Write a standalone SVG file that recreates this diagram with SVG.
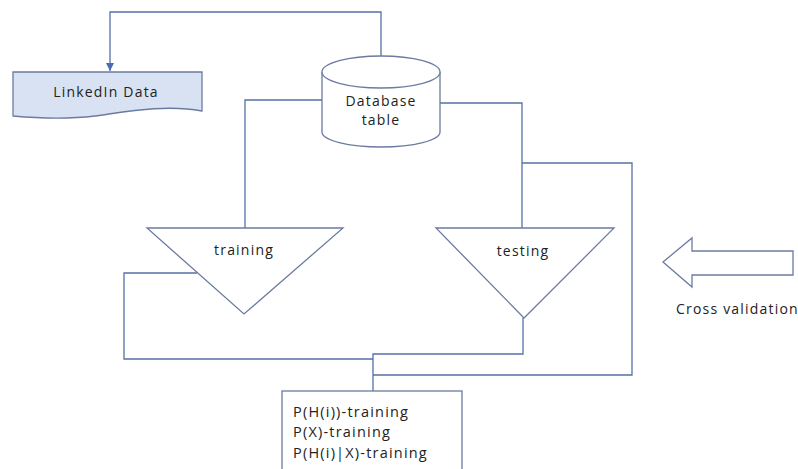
<svg xmlns="http://www.w3.org/2000/svg" width="798" height="469" viewBox="0 0 798 469">
<style>
.conn{fill:none;stroke:#5570a8;stroke-width:1.3}
.shape{fill:#fff;stroke:#6b7ba0;stroke-width:1.3}
.txt{font-family:"Open Sans","Liberation Sans",sans-serif;font-size:14px;letter-spacing:1.2px;fill:#222}
</style>
<defs>
<marker id="arr" viewBox="0 0 10 10" refX="10" refY="5" markerWidth="8" markerHeight="8" markerUnits="userSpaceOnUse" orient="auto">
<path d="M0,0 L10,5 L0,10 Z" fill="#4a6bb0"/>
</marker>
</defs>
<rect width="798" height="469" fill="#fff"/>
<g id="connectors">
<polyline class="conn" points="381,56 381,12 110,12 110,71" marker-end="url(#arr)"/>
<polyline class="conn" points="322,100 245,100 245,228"/>
<polyline class="conn" points="440,103 522,103 522,228"/>
<polyline class="conn" points="522,163 632,163 632,375 373,375"/>
<polyline class="conn" points="197,273 124,273 124,359 373,359"/>
<polyline class="conn" points="523,318 523,354 373,354 373,391"/>
</g>
<g id="linkedin">
<path class="shape" style="fill:#d9e2f3" d="M13,72 L202,72 L202,111 C165,104 125,112 95,116 C62,120 35,118 13,116 Z"/>
<text class="txt" x="106" y="97" text-anchor="middle">LinkedIn Data</text>
</g>
<g id="database">
<path class="shape" d="M322,72 L322,132 A59,15 0 0 0 440,132 L440,72"/>
<ellipse class="shape" cx="381" cy="72" rx="59" ry="16"/>
<text class="txt" x="381" y="106" text-anchor="middle">Database</text>
<text class="txt" x="381" y="125" text-anchor="middle">table</text>
</g>
<g id="training">
<polygon class="shape" points="147,228 343,228 244,314"/>
<text class="txt" x="244" y="255" text-anchor="middle">training</text>
</g>
<g id="testing">
<polygon class="shape" points="436,228 614,228 524,318"/>
<text class="txt" x="523" y="256" text-anchor="middle">testing</text>
</g>
<g id="cross-validation">
<polygon class="shape" points="663,262 692,238 692,251 793,251 793,275 692,275 692,287"/>
<text class="txt" x="676" y="314">Cross validation</text>
</g>
<g id="probabilities">
<rect class="shape" x="282" y="391" width="180" height="90"/>
<text class="txt" x="293" y="417" style="font-size:14.5px">P(H(i))-training</text>
<text class="txt" x="293" y="437" style="font-size:14.5px">P(X)-training</text>
<text class="txt" x="293" y="458" style="font-size:14.5px">P(H(i)|X)-training</text>
</g>
</svg>
